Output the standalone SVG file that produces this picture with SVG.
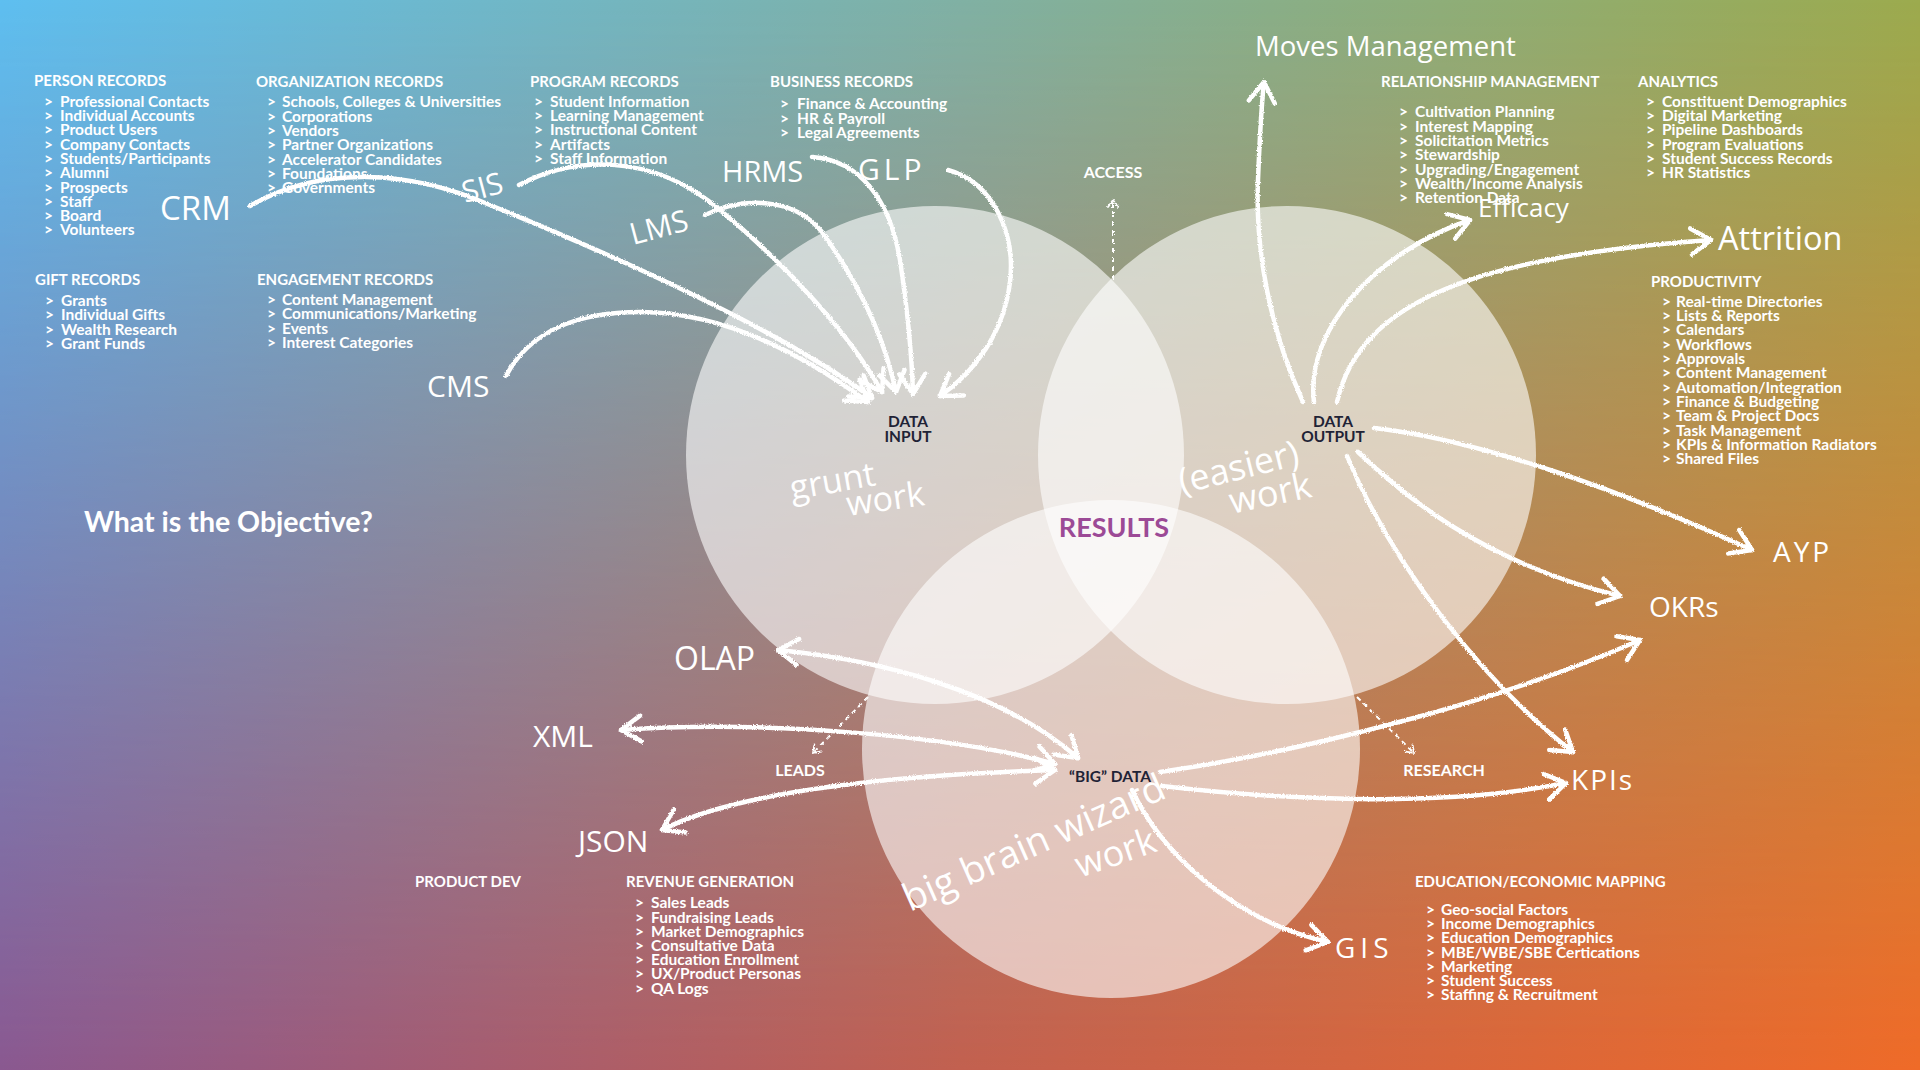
<svg xmlns="http://www.w3.org/2000/svg" width="1920" height="1070" viewBox="0 0 1920 1070">
<defs>
  <linearGradient id="gTop" x1="0" y1="0" x2="1" y2="0">
    <stop offset="0" stop-color="#5ebff0"/>
    <stop offset="0.5" stop-color="#80b1a4"/>
    <stop offset="1" stop-color="#9cab4e"/>
  </linearGradient>
  <linearGradient id="gBot" x1="0" y1="0" x2="1" y2="0">
    <stop offset="0" stop-color="#8a5890"/>
    <stop offset="0.5" stop-color="#c2604f"/>
    <stop offset="1" stop-color="#ef6a28"/>
  </linearGradient>
  <linearGradient id="gV" x1="0" y1="0" x2="0" y2="1">
    <stop offset="0" stop-color="#000"/>
    <stop offset="0.4" stop-color="#6a6a6a"/>
    <stop offset="1" stop-color="#fff"/>
  </linearGradient>
  <mask id="mV"><rect width="1920" height="1070" fill="url(#gV)"/></mask>
  <filter id="chalk" filterUnits="userSpaceOnUse" x="0" y="0" width="1920" height="1070">
    <feTurbulence type="fractalNoise" baseFrequency="0.9" numOctaves="2" seed="4" result="n"/>
    <feDisplacementMap in="SourceGraphic" in2="n" scale="3" xChannelSelector="R" yChannelSelector="G"/>
  </filter>
  <marker id="ah" viewBox="-26 -18 30 36" markerWidth="30" markerHeight="36" refX="0" refY="0" orient="auto-start-reverse" markerUnits="userSpaceOnUse">
    <path d="M-20,-13 L0,0 L-20,13" fill="none" stroke="#fff" stroke-width="4.5" stroke-linecap="round" stroke-linejoin="round"/>
  </marker>
  <marker id="ahs" viewBox="-10 -7 12 14" markerWidth="12" markerHeight="14" refX="0" refY="0" orient="auto" markerUnits="userSpaceOnUse">
    <path d="M-7,-5 L0,0 L-7,5" fill="none" stroke="#fff" stroke-width="1.8" stroke-linecap="round"/>
  </marker>
  <style>
    .hd { font-family: Lato, "Liberation Sans", sans-serif; font-weight: 700; font-size: 15px; fill: #fff; }
    .it { font-family: Lato, "Liberation Sans", sans-serif; font-weight: 700; font-size: 15.5px; fill: #fff; }
    .dk { font-family: Lato, "Liberation Sans", sans-serif; font-weight: 700; font-size: 15.5px; fill: #1f2336; text-anchor: middle; }
    .lb { font-family: Lato, "Liberation Sans", sans-serif; font-weight: 700; font-size: 16px; fill: #fff; text-anchor: middle; }
    .hw { font-family: "Open Sans", "DejaVu Sans", sans-serif; font-weight: 400; fill: #fff; }
    .circ { fill: #fff; fill-opacity: 0.6; }
    .ch { fill: none; stroke: #fff; stroke-width: 4.5; stroke-linecap: round; }
    .dash { fill: none; stroke: #fff; stroke-width: 2; stroke-dasharray: 5 4; }
  </style>
</defs>

<g id="background">
  <rect width="1920" height="1070" fill="url(#gTop)"/>
  <rect width="1920" height="1070" fill="url(#gBot)" mask="url(#mV)"/>
</g>

<g id="venn">
  <circle id="circle-input" class="circ" cx="935" cy="455" r="249"/>
  <circle id="circle-output" class="circ" cx="1287" cy="455" r="249"/>
  <circle id="circle-bigdata" class="circ" cx="1111" cy="749" r="249"/>
</g>

<g id="lists">
  <g id="person-records">
    <text class="hd" x="34" y="86">PERSON RECORDS</text>
    <text class="it">
      <tspan x="44" y="106.7">&gt;</tspan><tspan x="60" y="106.7">Professional Contacts</tspan>
      <tspan x="44" y="121">&gt;</tspan><tspan x="60" y="121">Individual Accounts</tspan>
      <tspan x="44" y="135.3">&gt;</tspan><tspan x="60" y="135.3">Product Users</tspan>
      <tspan x="44" y="149.6">&gt;</tspan><tspan x="60" y="149.6">Company Contacts</tspan>
      <tspan x="44" y="163.9">&gt;</tspan><tspan x="60" y="163.9">Students/Participants</tspan>
      <tspan x="44" y="178.2">&gt;</tspan><tspan x="60" y="178.2">Alumni</tspan>
      <tspan x="44" y="192.5">&gt;</tspan><tspan x="60" y="192.5">Prospects</tspan>
      <tspan x="44" y="206.8">&gt;</tspan><tspan x="60" y="206.8">Staff</tspan>
      <tspan x="44" y="221.1">&gt;</tspan><tspan x="60" y="221.1">Board</tspan>
      <tspan x="44" y="235.4">&gt;</tspan><tspan x="60" y="235.4">Volunteers</tspan>
    </text>
  </g>
  <g id="organization-records">
    <text class="hd" x="256" y="86.5">ORGANIZATION RECORDS</text>
    <text class="it">
      <tspan x="267" y="107.3">&gt;</tspan><tspan x="282" y="107.3">Schools, Colleges &amp; Universities</tspan>
      <tspan x="267" y="121.6">&gt;</tspan><tspan x="282" y="121.6">Corporations</tspan>
      <tspan x="267" y="136">&gt;</tspan><tspan x="282" y="136">Vendors</tspan>
      <tspan x="267" y="150.3">&gt;</tspan><tspan x="282" y="150.3">Partner Organizations</tspan>
      <tspan x="267" y="164.6">&gt;</tspan><tspan x="282" y="164.6">Accelerator Candidates</tspan>
      <tspan x="267" y="179">&gt;</tspan><tspan x="282" y="179">Foundations</tspan>
      <tspan x="267" y="193.3">&gt;</tspan><tspan x="282" y="193.3">Governments</tspan>
    </text>
  </g>
  <g id="gift-records">
    <text class="hd" x="35" y="285">GIFT RECORDS</text>
    <text class="it">
      <tspan x="45" y="306">&gt;</tspan><tspan x="61" y="306">Grants</tspan>
      <tspan x="45" y="320.3">&gt;</tspan><tspan x="61" y="320.3">Individual Gifts</tspan>
      <tspan x="45" y="334.7">&gt;</tspan><tspan x="61" y="334.7">Wealth Research</tspan>
      <tspan x="45" y="349">&gt;</tspan><tspan x="61" y="349">Grant Funds</tspan>
    </text>
  </g>
  <g id="engagement-records">
    <text class="hd" x="257" y="285">ENGAGEMENT RECORDS</text>
    <text class="it">
      <tspan x="267" y="305">&gt;</tspan><tspan x="282" y="305">Content Management</tspan>
      <tspan x="267" y="319.3">&gt;</tspan><tspan x="282" y="319.3">Communications/Marketing</tspan>
      <tspan x="267" y="333.7">&gt;</tspan><tspan x="282" y="333.7">Events</tspan>
      <tspan x="267" y="348">&gt;</tspan><tspan x="282" y="348">Interest Categories</tspan>
    </text>
  </g>
  <g id="program-records">
    <text class="hd" x="530" y="86.7">PROGRAM RECORDS</text>
    <text class="it">
      <tspan x="534" y="106.7">&gt;</tspan><tspan x="550" y="106.7">Student Information</tspan>
      <tspan x="534" y="121">&gt;</tspan><tspan x="550" y="121">Learning Management</tspan>
      <tspan x="534" y="135.3">&gt;</tspan><tspan x="550" y="135.3">Instructional Content</tspan>
      <tspan x="534" y="149.7">&gt;</tspan><tspan x="550" y="149.7">Artifacts</tspan>
      <tspan x="534" y="164">&gt;</tspan><tspan x="550" y="164">Staff Information</tspan>
    </text>
  </g>
  <g id="business-records">
    <text class="hd" x="770" y="86.7">BUSINESS RECORDS</text>
    <text class="it">
      <tspan x="780" y="109.3">&gt;</tspan><tspan x="797" y="109.3">Finance &amp; Accounting</tspan>
      <tspan x="780" y="123.7">&gt;</tspan><tspan x="797" y="123.7">HR &amp; Payroll</tspan>
      <tspan x="780" y="138">&gt;</tspan><tspan x="797" y="138">Legal Agreements</tspan>
    </text>
  </g>
  <g id="relationship-management">
    <text class="hd" x="1381" y="87.3">RELATIONSHIP MANAGEMENT</text>
    <text class="it">
      <tspan x="1399" y="117.3">&gt;</tspan><tspan x="1415" y="117.3">Cultivation Planning</tspan>
      <tspan x="1399" y="131.6">&gt;</tspan><tspan x="1415" y="131.6">Interest Mapping</tspan>
      <tspan x="1399" y="146">&gt;</tspan><tspan x="1415" y="146">Solicitation Metrics</tspan>
      <tspan x="1399" y="160.3">&gt;</tspan><tspan x="1415" y="160.3">Stewardship</tspan>
      <tspan x="1399" y="174.6">&gt;</tspan><tspan x="1415" y="174.6">Upgrading/Engagement</tspan>
      <tspan x="1399" y="189">&gt;</tspan><tspan x="1415" y="189">Wealth/Income Analysis</tspan>
      <tspan x="1399" y="203.3">&gt;</tspan><tspan x="1415" y="203.3">Retention Data</tspan>
    </text>
  </g>
  <g id="analytics">
    <text class="hd" x="1638" y="87.3">ANALYTICS</text>
    <text class="it">
      <tspan x="1646" y="106.7">&gt;</tspan><tspan x="1662" y="106.7">Constituent Demographics</tspan>
      <tspan x="1646" y="121">&gt;</tspan><tspan x="1662" y="121">Digital Marketing</tspan>
      <tspan x="1646" y="135.3">&gt;</tspan><tspan x="1662" y="135.3">Pipeline Dashboards</tspan>
      <tspan x="1646" y="149.7">&gt;</tspan><tspan x="1662" y="149.7">Program Evaluations</tspan>
      <tspan x="1646" y="164">&gt;</tspan><tspan x="1662" y="164">Student Success Records</tspan>
      <tspan x="1646" y="178.3">&gt;</tspan><tspan x="1662" y="178.3">HR Statistics</tspan>
    </text>
  </g>
  <g id="productivity">
    <text class="hd" x="1651" y="286.7">PRODUCTIVITY</text>
    <text class="it">
      <tspan x="1662" y="306.7">&gt;</tspan><tspan x="1676" y="306.7">Real-time Directories</tspan>
      <tspan x="1662" y="321">&gt;</tspan><tspan x="1676" y="321">Lists &amp; Reports</tspan>
      <tspan x="1662" y="335.3">&gt;</tspan><tspan x="1676" y="335.3">Calendars</tspan>
      <tspan x="1662" y="349.7">&gt;</tspan><tspan x="1676" y="349.7">Workflows</tspan>
      <tspan x="1662" y="364">&gt;</tspan><tspan x="1676" y="364">Approvals</tspan>
      <tspan x="1662" y="378.3">&gt;</tspan><tspan x="1676" y="378.3">Content Management</tspan>
      <tspan x="1662" y="392.7">&gt;</tspan><tspan x="1676" y="392.7">Automation/Integration</tspan>
      <tspan x="1662" y="407">&gt;</tspan><tspan x="1676" y="407">Finance &amp; Budgeting</tspan>
      <tspan x="1662" y="421.3">&gt;</tspan><tspan x="1676" y="421.3">Team &amp; Project Docs</tspan>
      <tspan x="1662" y="435.7">&gt;</tspan><tspan x="1676" y="435.7">Task Management</tspan>
      <tspan x="1662" y="450">&gt;</tspan><tspan x="1676" y="450">KPIs &amp; Information Radiators</tspan>
      <tspan x="1662" y="464.3">&gt;</tspan><tspan x="1676" y="464.3">Shared Files</tspan>
    </text>
  </g>
  <g id="product-dev">
    <text class="hd" x="415" y="887.3">PRODUCT DEV</text>
  </g>
  <g id="revenue-generation">
    <text class="hd" x="626" y="887.3">REVENUE GENERATION</text>
    <text class="it">
      <tspan x="635" y="908.3">&gt;</tspan><tspan x="651" y="908.3">Sales Leads</tspan>
      <tspan x="635" y="922.5">&gt;</tspan><tspan x="651" y="922.5">Fundraising Leads</tspan>
      <tspan x="635" y="936.7">&gt;</tspan><tspan x="651" y="936.7">Market Demographics</tspan>
      <tspan x="635" y="950.9">&gt;</tspan><tspan x="651" y="950.9">Consultative Data</tspan>
      <tspan x="635" y="965.1">&gt;</tspan><tspan x="651" y="965.1">Education Enrollment</tspan>
      <tspan x="635" y="979.3">&gt;</tspan><tspan x="651" y="979.3">UX/Product Personas</tspan>
      <tspan x="635" y="993.5">&gt;</tspan><tspan x="651" y="993.5">QA Logs</tspan>
    </text>
  </g>
  <g id="education-economic-mapping">
    <text class="hd" x="1415" y="886.7">EDUCATION/ECONOMIC MAPPING</text>
    <text class="it">
      <tspan x="1426" y="915">&gt;</tspan><tspan x="1441" y="915">Geo-social Factors</tspan>
      <tspan x="1426" y="929.2">&gt;</tspan><tspan x="1441" y="929.2">Income Demographics</tspan>
      <tspan x="1426" y="943.3">&gt;</tspan><tspan x="1441" y="943.3">Education Demographics</tspan>
      <tspan x="1426" y="957.5">&gt;</tspan><tspan x="1441" y="957.5">MBE/WBE/SBE Certications</tspan>
      <tspan x="1426" y="971.7">&gt;</tspan><tspan x="1441" y="971.7">Marketing</tspan>
      <tspan x="1426" y="985.8">&gt;</tspan><tspan x="1441" y="985.8">Student Success</tspan>
      <tspan x="1426" y="1000">&gt;</tspan><tspan x="1441" y="1000">Staffing &amp; Recruitment</tspan>
    </text>
  </g>
  <g id="objective">
    <text x="84" y="532" style="font-family: Lato, 'Liberation Sans', sans-serif; font-weight: 700; font-size: 28.5px; fill: #fff;">What is the Objective?</text>
  </g>
</g>

<g id="connectors" filter="url(#chalk)">
  <path id="c-crm" class="ch" d="M250,206 C320,165 410,170 490,205 C620,258 780,330 872,398" marker-end="url(#ah)"/>
  <path id="c-sis" class="ch" d="M519,185 C570,158 650,150 720,210 C790,268 850,335 882,392" marker-end="url(#ah)"/>
  <path id="c-lms" class="ch" d="M705,215 C740,198 792,195 822,232 C860,285 885,340 896,392" marker-end="url(#ah)"/>
  <path id="c-hrms" class="ch" d="M812,157 C860,160 890,200 900,260 C909,320 912,360 913,394" marker-end="url(#ah)"/>
  <path id="c-glp" class="ch" d="M948,170 C992,182 1016,232 1010,282 C1004,332 975,372 940,396" marker-end="url(#ah)"/>
  <path id="c-cms" class="ch" d="M506,376 C530,330 580,312 640,312 C720,312 800,352 868,402" marker-end="url(#ah)"/>

  <path id="c-moves" class="ch" d="M1303,402 C1270,330 1255,250 1258,180 C1260,130 1262,100 1264,82" marker-end="url(#ah)"/>
  <path id="c-efficacy" class="ch" d="M1314,402 C1305,330 1375,252 1470,220" marker-end="url(#ah)"/>
  <path id="c-attrition" class="ch" d="M1337,402 C1360,300 1480,256 1711,240" marker-end="url(#ah)"/>
  <path id="c-ayp" class="ch" d="M1374,428 C1480,440 1620,490 1752,550" marker-end="url(#ah)"/>
  <path id="c-okrs-out" class="ch" d="M1358,452 C1400,492 1480,562 1620,596" marker-end="url(#ah)"/>
  <path id="c-kpis-out" class="ch" d="M1347,456 C1390,560 1480,680 1573,752" marker-end="url(#ah)"/>

  <path id="c-okrs-big" class="ch" d="M1160,772 C1300,752 1500,702 1640,640" marker-end="url(#ah)"/>
  <path id="c-kpis-big" class="ch" d="M1162,786 C1300,802 1450,806 1566,783" marker-end="url(#ah)"/>
  <path id="c-gis" class="ch" d="M1132,790 C1160,850 1230,920 1328,942" marker-end="url(#ah)"/>
  <path id="c-olap" class="ch" d="M778,650 C880,660 1000,690 1078,758" marker-start="url(#ah)" marker-end="url(#ah)"/>
  <path id="c-xml" class="ch" d="M621,730 C760,720 950,735 1055,764" marker-start="url(#ah)" marker-end="url(#ah)"/>
  <path id="c-json" class="ch" d="M662,830 C740,790 900,775 1055,770" marker-start="url(#ah)" marker-end="url(#ah)"/>

  <path id="c-access" class="dash" d="M1113,280 L1113,200" marker-end="url(#ahs)"/>
  <path id="c-leads" class="dash" d="M868,697 L813,753" marker-end="url(#ahs)"/>
  <path id="c-research" class="dash" d="M1357,697 L1414,753" marker-end="url(#ahs)"/>
</g>

<g id="node-crm"><text class="hw" x="160" y="220" font-size="33">CRM</text></g>
<g id="node-sis"><text class="hw" x="465" y="203" font-size="30" transform="rotate(-15 465 203)">SIS</text></g>
<g id="node-lms"><text class="hw" x="633" y="245" font-size="30" transform="rotate(-15 633 245)">LMS</text></g>
<g id="node-hrms"><text class="hw" x="722" y="182" font-size="29">HRMS</text></g>
<g id="node-glp"><text class="hw" x="858" y="180" font-size="30" letter-spacing="4">GLP</text></g>
<g id="node-cms"><text class="hw" x="427" y="397" font-size="30">CMS</text></g>

<g id="node-data-input"><text class="dk" x="908" y="426.7">DATA</text><text class="dk" x="908" y="441.7">INPUT</text></g>
<g id="node-data-output"><text class="dk" x="1333" y="426.7">DATA</text><text class="dk" x="1333" y="441.7">OUTPUT</text></g>
<g id="node-big-data"><text class="dk" x="1110" y="781.7">“BIG” DATA</text></g>
<g id="node-results"><text x="1114" y="537" style="font-family: Lato, 'Liberation Sans', sans-serif; font-weight: 700; font-size: 27px; fill: #9c4a96; text-anchor: middle;">RESULTS</text></g>

<g id="node-access"><text class="lb" x="1113" y="178">ACCESS</text></g>
<g id="node-leads"><text class="lb" x="800" y="776">LEADS</text></g>
<g id="node-research"><text class="lb" x="1444" y="776">RESEARCH</text></g>

<g id="node-moves"><text class="hw" x="1255" y="56" font-size="27.5">Moves Management</text></g>
<g id="node-efficacy"><text class="hw" x="1478" y="217" font-size="26">Efficacy</text></g>
<g id="node-attrition"><text class="hw" x="1718" y="250" font-size="32.5">Attrition</text></g>
<g id="node-ayp"><text class="hw" x="1773" y="562" font-size="28" letter-spacing="3">AYP</text></g>
<g id="node-okrs"><text class="hw" x="1649" y="617" font-size="28">OKRs</text></g>
<g id="node-kpis"><text class="hw" x="1571" y="790" font-size="28" letter-spacing="2">KPIs</text></g>
<g id="node-gis"><text class="hw" x="1335" y="958" font-size="28" letter-spacing="5">GIS</text></g>
<g id="node-olap"><text class="hw" x="674" y="670" font-size="32">OLAP</text></g>
<g id="node-xml"><text class="hw" x="533" y="747" font-size="30">XML</text></g>
<g id="node-json"><text class="hw" x="578" y="852" font-size="30">JSON</text></g>

<g id="annotations">
  <text class="hw" x="792" y="500" font-size="34" transform="rotate(-10 792 500)">grunt</text>
  <text class="hw" x="848" y="516" font-size="34" transform="rotate(-8 848 516)">work</text>
  <text class="hw" x="1182" y="494" font-size="36" transform="rotate(-14 1182 494)">(easier)</text>
  <text class="hw" x="1232" y="514" font-size="36" transform="rotate(-12 1232 514)">work</text>
  <text class="hw" x="910" y="912" font-size="38" transform="rotate(-24 910 912)">big brain wizard</text>
  <text class="hw" x="1080" y="878" font-size="36" transform="rotate(-19 1080 878)">work</text>
</g>
</svg>
